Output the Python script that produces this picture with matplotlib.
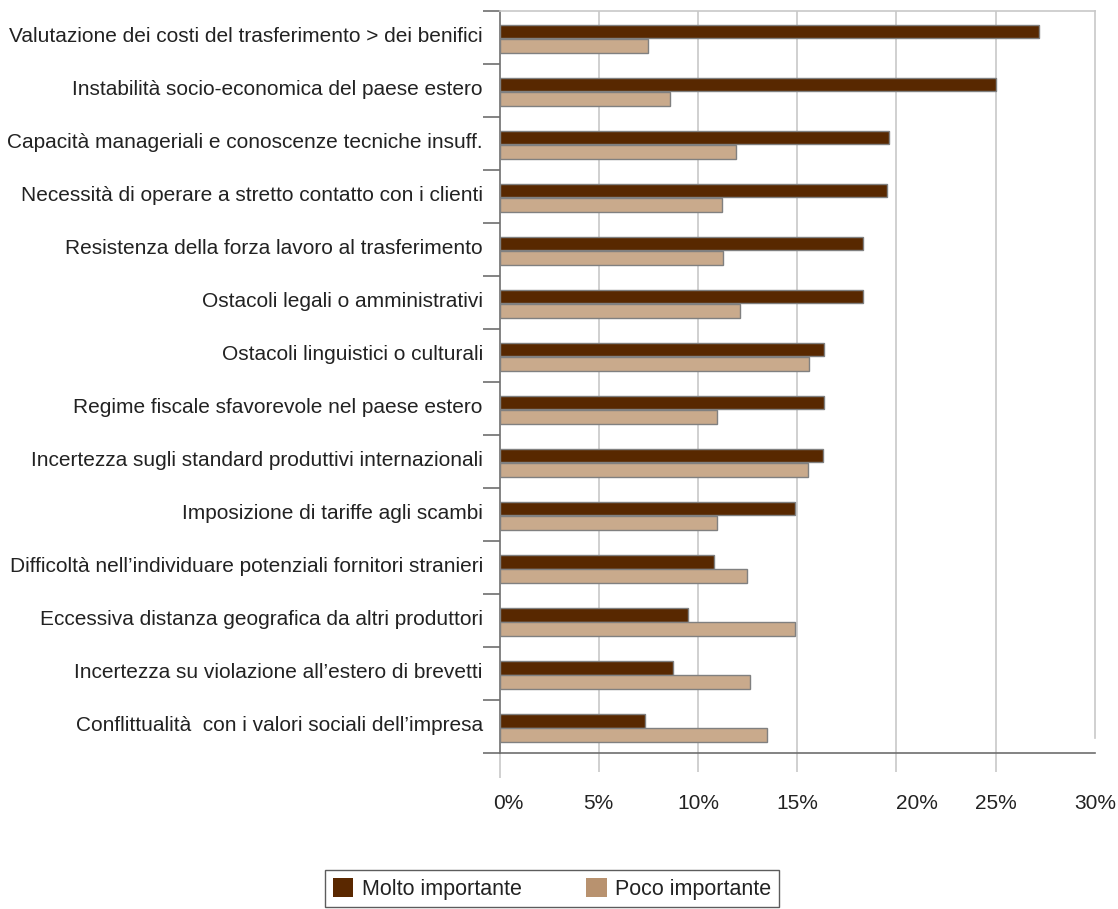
import matplotlib
matplotlib.use("Agg")
import matplotlib.pyplot as plt
import matplotlib.transforms as mtransforms
from matplotlib.patches import Patch
import numpy as np

plt.rcParams['font.family'] = ['Liberation Sans', 'DejaVu Sans']

# ostacoli alla delocalizzazione, dall'alto verso il basso
categorie = [
    "Valutazione dei costi del trasferimento > dei benifici",
    "Instabilità socio-economica del paese estero",
    "Capacità manageriali e conoscenze tecniche insuff.",
    "Necessità di operare a stretto contatto con i clienti",
    "Resistenza della forza lavoro al trasferimento",
    "Ostacoli legali o amministrativi",
    "Ostacoli linguistici o culturali",
    "Regime fiscale sfavorevole nel paese estero",
    "Incertezza sugli standard produttivi internazionali",
    "Imposizione di tariffe agli scambi",
    "Difficoltà nell\u2019individuare potenziali fornitori stranieri",
    "Eccessiva distanza geografica da altri produttori",
    "Incertezza su violazione all\u2019estero di brevetti",
    "Conflittualità  con i valori sociali dell\u2019impresa",
]
molto = [27.2, 25.0, 19.6, 19.5, 18.3, 18.3, 16.35, 16.35, 16.3, 14.9, 10.8, 9.5, 8.75, 7.35]
poco = [7.5, 8.6, 11.9, 11.2, 11.25, 12.1, 15.6, 10.95, 15.55, 10.95, 12.45, 14.9, 12.6, 13.5]

xticks = [0, 5, 10, 15, 20, 25, 30]
xlabels = ["0%", "5%", "10%", "15%", "20%", "25%", "30%"]

c_molto = "#582800"
c_poco = "#c9aa8c"
c_grid = "#c8c8c8"
c_axis = "#6e6e6e"
fs = 15

fig = plt.figure(figsize=(11.18, 9.09), dpi=100)
ax = fig.add_axes([0.4468, 0.1716, 0.5326, 0.8166])

y = np.arange(len(categorie))
h = 0.26
ax.barh(y - 0.11, molto, height=h, color=c_molto, edgecolor="#808080", linewidth=1.0, zorder=3)
ax.barh(y + 0.165, poco, height=h, color=c_poco, edgecolor="#808080", linewidth=1.0, zorder=3)

ax.set_xlim(0, 30)
ax.set_ylim(len(categorie) - 0.5, -0.5)

# griglia verticale
for v in xticks[1:-1]:
    ax.axvline(v, color=c_grid, linewidth=1.2, zorder=1)

# etichette categorie e separatori
ax.set_yticks(y)
ax.set_yticklabels(categorie, fontsize=fs, color="#222222")
ax.tick_params(axis="y", which="major", length=0, pad=12)
ax.set_yticks(np.arange(len(categorie) + 1) - 0.5, minor=True)
ax.tick_params(axis="y", which="minor", length=12, width=1.2, color=c_axis)
for lab in ax.get_yticklabels():
    lab.set_transform(lab.get_transform() +
                      mtransforms.ScaledTranslation(0, 0.03, fig.dpi_scale_trans))

ax.set_xticks(xticks)
ax.set_xticklabels(xlabels, fontsize=fs, color="#222222")
ax.tick_params(axis="x", length=13.7, width=1.2, color=c_grid, pad=16)
ticks = ax.xaxis.get_major_ticks()
ticks[0].tick1line.set_color(c_axis)
ticks[0].tick1line.set_markersize(18)
ticks[-1].tick1line.set_visible(False)

# piccoli spostamenti delle etichette dell'asse x
nudge = {0: 9, 4: 20}
for i, lab in enumerate(ax.get_xticklabels()):
    if i in nudge:
        off = mtransforms.ScaledTranslation(nudge[i] / 100, 0, fig.dpi_scale_trans)
        lab.set_transform(lab.get_transform() + off)

for s in ["left", "bottom"]:
    ax.spines[s].set_color(c_axis)
    ax.spines[s].set_linewidth(1.2)
for s in ["top", "right"]:
    ax.spines[s].set_color(c_grid)
    ax.spines[s].set_linewidth(1.2)
ax.spines["right"].set_bounds(13.22, -0.5)

handles = [Patch(facecolor="#5a2800", edgecolor="none"),
           Patch(facecolor="#b8926f", edgecolor="none")]
leg = fig.legend(handles, ["Molto importante", "Poco importante"], ncol=2,
                 loc="lower center", bbox_to_anchor=(0.4937, 0.002), fontsize=15.5,
                 frameon=True, fancybox=False, handlelength=0.95, handleheight=0.95,
                 handletextpad=0.4, columnspacing=3.0, borderpad=0.35,
                 borderaxespad=0.0)
leg.get_frame().set_edgecolor("#333333")
leg.get_frame().set_linewidth(1.0)
for t in leg.get_texts():
    t.set_color("#222222")

fig.savefig("out.png", dpi=100)
